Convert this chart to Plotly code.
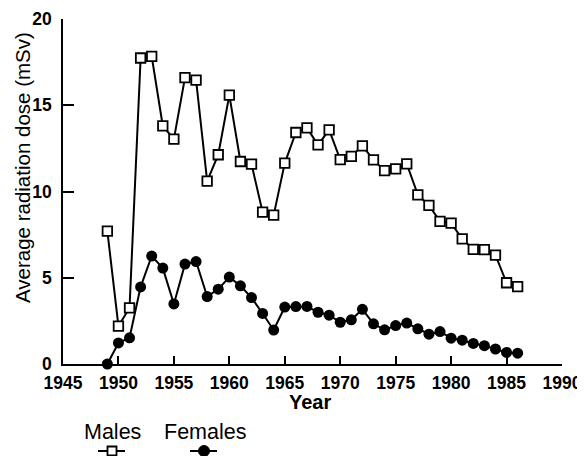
import plotly.graph_objects as go

years = list(range(1949, 1987))
males = [7.7, 2.2, 3.25, 17.74, 17.83, 13.8, 13.04, 16.6, 16.46, 10.6, 12.13, 15.59,
         11.74, 11.59, 8.8, 8.63, 11.65, 13.42, 13.69, 12.7, 13.57, 11.85, 12.04, 12.65,
         11.83, 11.21, 11.31, 11.6, 9.81, 9.19, 8.27, 8.17, 7.25, 6.65, 6.63, 6.31, 4.71, 4.48]
females = [0, 1.22, 1.52, 4.47, 6.26, 5.56, 3.48, 5.79, 5.94, 3.91, 4.34, 5.04,
           4.53, 3.85, 2.93, 1.97, 3.3, 3.33, 3.34, 3.0, 2.83, 2.42, 2.56, 3.17,
           2.33, 1.98, 2.23, 2.37, 2.04, 1.73, 1.88, 1.5, 1.38, 1.19, 1.06, 0.87, 0.67, 0.63]
x_ticks = [1945, 1950, 1955, 1960, 1965, 1970, 1975, 1980, 1985, 1990]
y_ticks = [0, 5, 10, 15, 20]
series_names = ["Males", "Females"]

FONT = "Liberation Sans, Arial, sans-serif"
PAGE_OFF = 8  # default body margin of the html page
W, H = 585 - PAGE_OFF, 456 - PAGE_OFF
# plot area in screenshot pixels: x 63..562, y 19..364
L = 63 - PAGE_OFF
T = 19 - PAGE_OFF
R = W - (562 - PAGE_OFF)
B = H - (364 - PAGE_OFF)
pw, ph = W - L - R, H - T - B


def px_to_paper_x(p):
    return (p - PAGE_OFF - L) / pw


def px_to_paper_y(p):
    return (H - B - (p - PAGE_OFF)) / ph


fig = go.Figure()
fig.add_trace(go.Scatter(
    x=years, y=females, mode="lines+markers", name=series_names[1],
    line=dict(color="black", width=2),
    marker=dict(symbol="circle", size=11, color="black"),
    cliponaxis=False, showlegend=False))
fig.add_trace(go.Scatter(
    x=years, y=males, mode="lines+markers", name=series_names[0],
    line=dict(color="black", width=2),
    marker=dict(symbol="square", size=9.5, color="white", line=dict(color="black", width=1.8)),
    cliponaxis=False, showlegend=False))

tickfont = dict(family=FONT, size=17.5, color="black", weight="bold")
fig.update_xaxes(range=[x_ticks[0], x_ticks[-1]], tickvals=x_ticks,
                 ticks="inside", ticklen=8, automargin=False,
                 tickwidth=1.6, tickcolor="black", showline=True, linecolor="black", linewidth=1.6,
                 showgrid=False, zeroline=False, tickfont=tickfont, ticklabelstandoff=2)
fig.update_yaxes(range=[y_ticks[0], y_ticks[-1]], tickvals=y_ticks,
                 ticks="inside", ticklen=11, automargin=False,
                 tickwidth=1.6, tickcolor="black", showline=True, linecolor="black", linewidth=1.6,
                 showgrid=False, zeroline=False, tickfont=tickfont,
                 ticklabelstandoff=6)

annotations = [
    dict(text="Year", xref="paper", yref="paper", x=px_to_paper_x(310), y=px_to_paper_y(402),
         showarrow=False, font=dict(family=FONT, size=20, color="black", weight="bold"),
         xanchor="center", yanchor="middle"),
    dict(text="Average radiation dose (mSv)", xref="paper", yref="paper",
         x=px_to_paper_x(22), y=px_to_paper_y(168), textangle=-90, showarrow=False,
         font=dict(family=FONT, size=20.5, color="black"), xanchor="center", yanchor="middle"),
]
leg_x = [112, 204]
leg_text_y = 432
leg_sym_y = 451
for name, lx in zip(series_names, leg_x):
    annotations.append(dict(text=name, xref="paper", yref="paper", x=px_to_paper_x(lx + 0.5),
                            y=px_to_paper_y(leg_text_y), showarrow=False,
                            font=dict(family=FONT, size=21.5, color="black"),
                            xanchor="center", yanchor="middle"))

shapes = []
for i, lx in enumerate(leg_x):
    xa, ya = px_to_paper_x(lx), px_to_paper_y(leg_sym_y)
    shapes.append(dict(type="line", xref="paper", yref="paper", xsizemode="pixel", ysizemode="pixel",
                       xanchor=xa, yanchor=ya, x0=-14, x1=13, y0=0, y1=0,
                       line=dict(color="black", width=2)))
    if i == 0:
        shapes.append(dict(type="rect", xref="paper", yref="paper", xsizemode="pixel", ysizemode="pixel",
                           xanchor=xa, yanchor=ya, x0=-4.5, x1=4.5, y0=-4.5, y1=4.5,
                           fillcolor="white", line=dict(color="black", width=1.8)))
    else:
        shapes.append(dict(type="circle", xref="paper", yref="paper", xsizemode="pixel", ysizemode="pixel",
                           xanchor=xa, yanchor=ya, x0=-5.5, x1=5.5, y0=-5.5, y1=5.5,
                           fillcolor="black", line=dict(color="black", width=1)))

fig.update_layout(width=W, height=H, margin=dict(l=L, r=R, t=T, b=B, autoexpand=False),
                  plot_bgcolor="white", paper_bgcolor="white",
                  annotations=annotations, shapes=shapes, showlegend=False,
                  font=dict(family=FONT, color="black"))

fig.write_html("out.html")
